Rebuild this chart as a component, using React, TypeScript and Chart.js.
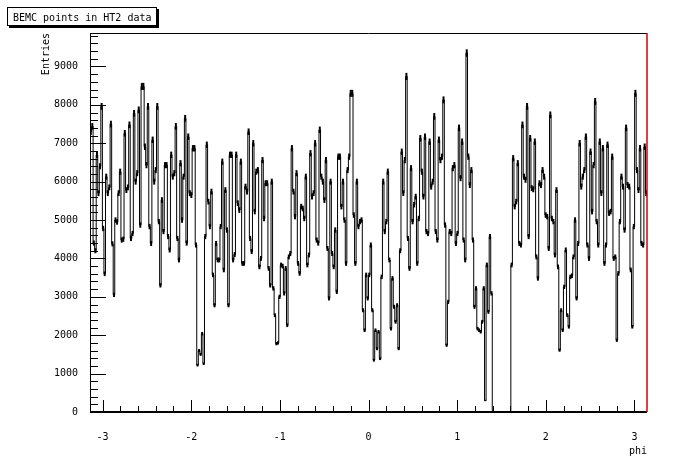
import React, { useEffect, useRef } from "react";
import { Chart, registerables } from "chart.js";

Chart.register(...registerables);

const PHI_MIN = -Math.PI;
const PHI_MAX = Math.PI;
const Y_MAX = 9872;

const entriesA = [7300,7440,4400,4200,6700,5700,6400,7960,4780,3600,6130,5700,5850,7500,4380,3050,5000,4950,5700,6260,4480,4500,7260,5780,5850,7480,4520,4650,7780,6000,6220,7870,4870,8480,8480,6910,6430,7960,4830,4390,7090,6000,6300,7960,4960,3300,5520,4700,6430,6430,4570,4220,6700,6130,6220,7440,4520,3960,6480,5000];
const entriesB = [6130,7650,4400,7170,5700,5650,6870,6870,4350,1220,1600,1500,2040,1260,4570,6960,5480,4830,5740,3570,2780,4390,3960,3960,4830,6520,3700,5780,4740,2780,6700,6700,3960,4100,6700,5440,5260,6520,3870,3870,5870,5740,7300,4520,4180,7000,5220,6260,6300,3780,4000,6560,5040,5960,5960,3740,3300,6000,3220,2520];
const entriesC = [1780,1800,3000,3830,3800,3090,3740,2260,4040,4130,6870,5740,5090,6220,3870,3610,5350,5300,5040,6130,3830,4090,6740,5610,5700,7000,4480,4400,7350,6130,6000,5520,6560,4260,2960,6000,4130,3780,4740,3130,6650,6650,5350,6000,5000,3870,6300,6650,8300,8300,5130,3870,6000,4830,4960,5000,2650,2130,3570,2960];
const entriesD = [3570,4350,2650,1350,2130,1650,2090,1390,3520,6000,4700,4960,6260,3960,2170,3480,2740,2350,2780,1650,4200,6780,5700,6560,8740,4520,3740,6350,4960,5400,5610,3870,5040,7130,6260,5610,7170,4700,4650,7040,5870,6000,7700,4700,4480,7090,6560,6650,8130,4870,1740,2870,4700,4650,6350,6430,4390,4650,7400,6090];
const entriesE = [7040,4480,3960,9350,6650,5910,6300,4480,2740,3220,2170,2130,2090,2350,3220,300,3830,2610,4570,3090,0,0,0,0,0,0,0,0,0,0,0,0,3830,6610,5350,5480,6480,4390,4350,7480,6130,6050,7960,4570,7130,5830,5800,7040,4040,3480,5960,5910,6300,6130,5130,5090,4260,7740,5040,4960];
const entriesF = [4090,5780,3780,1610,2650,2130,3260,4220,2520,2220,3520,3550,4040,5000,2960,4390,7000,5870,6130,6300,7170,4350,4000,6780,5220,6430,8090,4960,4350,7040,5700,6870,3870,4350,6960,5180,5220,6650,4000,4040,1870,3610,4960,6130,5870,4740,7400,5910,5870,3700,2220,4830,8300,6300,5780,6870,4390,4350,6910,5700];

const entries = [...entriesA, ...entriesB, ...entriesC, ...entriesD, ...entriesE, ...entriesF];

const xTickLabels = [-3, -2, -1, 0, 1, 2, 3];
const yTickLabels = [0, 1000, 2000, 3000, 4000, 5000, 6000, 7000, 8000, 9000];

const TITLE = "BEMC points in HT2 data";
const X_TITLE = "phi";
const Y_TITLE = "Entries";

const FONT = { family: "'DejaVu Sans Mono', monospace", size: 10 };

export default function App() {
  const ref = useRef<HTMLCanvasElement | null>(null);

  useEffect(() => {
    document.body.style.margin = "0";
    const canvas = ref.current;
    if (!canvas) return;
    const n = entries.length;
    const w = (PHI_MAX - PHI_MIN) / n;
    const pts = entries.map((v, i) => ({ x: PHI_MIN + i * w, y: v }));
    pts.push({ x: PHI_MAX, y: entries[n - 1] });

    const rootPlugin = {
      id: "rootStyle",
      afterDatasetsDraw(chart: any) {
        const { ctx, chartArea: a, scales } = chart;
        const xs = scales.x, ys = scales.y;
        ctx.save();
        ctx.beginPath();
        ctx.rect(a.left, a.top, a.right - a.left, a.bottom - a.top);
        ctx.clip();
        ctx.strokeStyle = "#000";
        ctx.lineWidth = 2;
        entries.forEach((v, i) => {
          if (v <= 0) return;
          const e = Math.sqrt(v);
          const cx = xs.getPixelForValue(PHI_MIN + (i + 0.5) * w);
          ctx.beginPath();
          ctx.moveTo(cx, ys.getPixelForValue(v + e));
          ctx.lineTo(cx, ys.getPixelForValue(v - e));
          ctx.stroke();
        });
        ctx.restore();
      },
      afterDraw(chart: any) {
        const { ctx, chartArea: a, scales } = chart;
        const xs = scales.x, ys = scales.y;
        ctx.save();
        ctx.strokeStyle = "#000";
        ctx.lineWidth = 1;
        // frame top and left
        ctx.beginPath();
        ctx.moveTo(a.left, Math.round(a.top) + 0.5);
        ctx.lineTo(a.right, Math.round(a.top) + 0.5);
        ctx.moveTo(Math.round(a.left) + 0.5, a.top);
        ctx.lineTo(Math.round(a.left) + 0.5, a.bottom);
        ctx.stroke();
        // y ticks
        ctx.beginPath();
        for (let k = 0; k * 200 <= Y_MAX; k++) {
          const v = k * 200;
          const y = Math.round(ys.getPixelForValue(v)) + 0.5;
          const len = k % 5 === 0 ? 16 : 8;
          ctx.moveTo(a.left, y);
          ctx.lineTo(a.left + len, y);
        }
        ctx.stroke();
        // x ticks
        ctx.beginPath();
        for (let k = -15; k <= 15; k++) {
          const v = k * 0.2;
          if (v < PHI_MIN || v > PHI_MAX) continue;
          const x = Math.round(xs.getPixelForValue(v)) + 0.5;
          const len = k % 5 === 0 ? 12 : 6;
          ctx.moveTo(x, a.bottom);
          ctx.lineTo(x, a.bottom - len);
        }
        ctx.stroke();
        // bottom axis
        ctx.lineWidth = 2;
        ctx.beginPath();
        ctx.moveTo(a.left, Math.round(a.bottom));
        ctx.lineTo(a.right, Math.round(a.bottom));
        ctx.stroke();
        // right red edge
        ctx.strokeStyle = "#d00000";
        ctx.lineWidth = 1.5;
        ctx.beginPath();
        ctx.moveTo(a.right, a.top);
        ctx.lineTo(a.right, a.bottom);
        ctx.stroke();
        // title box
        ctx.fillStyle = "#000";
        ctx.fillRect(9, 9, 150, 19);
        ctx.fillStyle = "#fff";
        ctx.fillRect(7, 7, 150, 19);
        ctx.strokeStyle = "#000";
        ctx.lineWidth = 1;
        ctx.strokeRect(7.5, 7.5, 149, 18);
        ctx.fillStyle = "#000";
        ctx.font = "10px 'DejaVu Sans Mono', monospace";
        ctx.textBaseline = "alphabetic";
        ctx.textAlign = "left";
        ctx.fillText(TITLE, 13, 21);
        ctx.restore();
      },
    };

    const chart = new Chart(canvas, {
      type: "line",
      data: {
        datasets: [
          {
            data: pts,
            stepped: true,
            borderColor: "#000",
            borderWidth: 1,
            pointRadius: 0,
            fill: false,
            tension: 0,
          },
        ],
      },
      options: {
        responsive: false,
        animation: false,
        layout: { padding: { left: 0, top: 33, right: 49, bottom: 0 } },
        plugins: { legend: { display: false }, tooltip: { enabled: false }, title: { display: false } },
        scales: {
          x: {
            type: "linear",
            min: PHI_MIN,
            max: PHI_MAX,
            grid: { display: false },
            border: { display: false },
            afterBuildTicks: (s: any) => {
              s.ticks = xTickLabels.map((v) => ({ value: v }));
            },
            afterFit: (s: any) => {
              s.height = 62;
            },
            ticks: {
              font: FONT,
              color: "#000",
              padding: 11,
              maxRotation: 0,
              autoSkip: false,
              callback: (v: any) => String(v),
            },
            title: { display: true, text: X_TITLE, align: "end", font: FONT, color: "#000", padding: { top: 0, bottom: 17 } },
          },
          y: {
            type: "linear",
            min: 0,
            max: Y_MAX,
            grid: { display: false },
            border: { display: false },
            afterBuildTicks: (s: any) => {
              s.ticks = yTickLabels.map((v) => ({ value: v }));
            },
            afterFit: (s: any) => {
              s.width = 90;
            },
            ticks: {
              font: FONT,
              color: "#000",
              padding: 4,
              autoSkip: false,
              callback: (v: any) => String(v),
            },
            title: { display: true, text: Y_TITLE, align: "end", font: FONT, color: "#000", padding: { top: 40, bottom: 0 } },
          },
        },
      },
      plugins: [rootPlugin],
    });
    return () => chart.destroy();
  }, []);

  return (
    <div style={{ position: "fixed", left: 0, top: 0, width: 696, height: 474, background: "#fff" }}>
      <canvas ref={ref} width={696} height={474} />
    </div>
  );
}
